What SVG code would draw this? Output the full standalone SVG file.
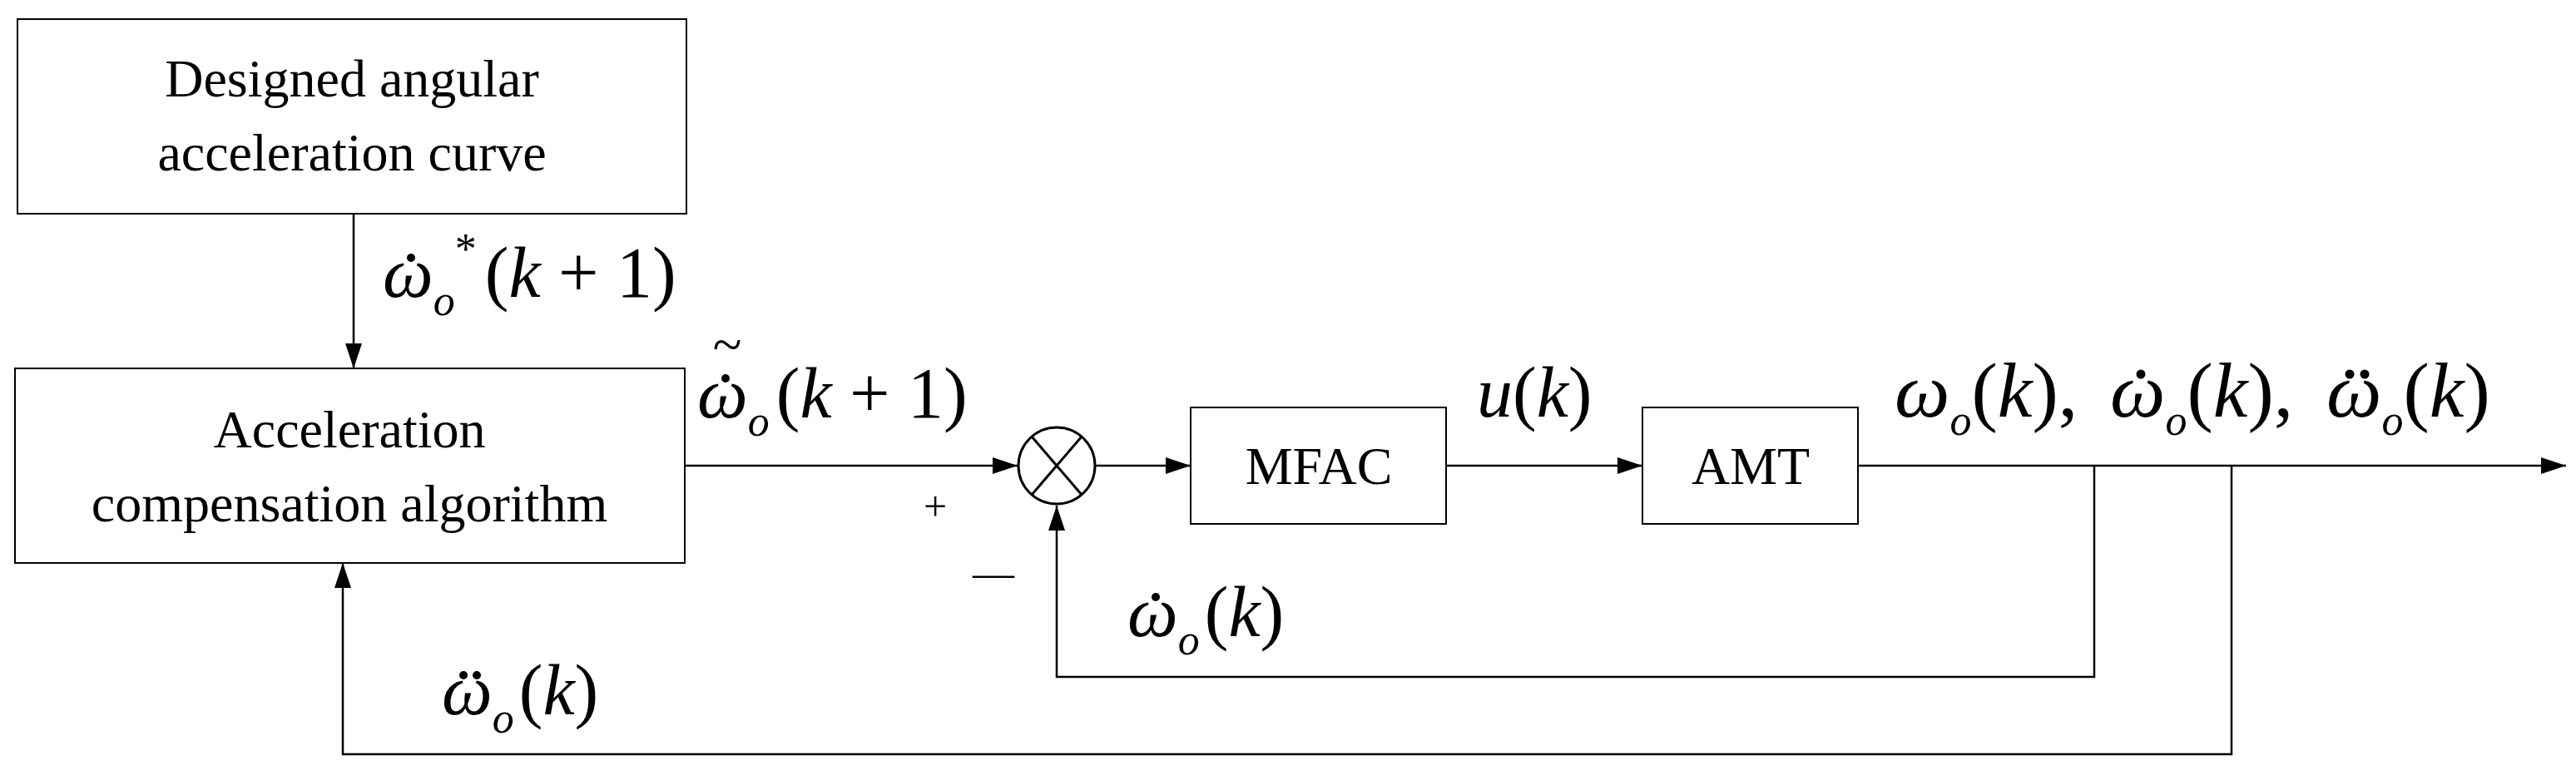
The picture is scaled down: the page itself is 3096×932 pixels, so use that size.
<svg xmlns="http://www.w3.org/2000/svg" width="3096" height="932" viewBox="0 0 3096 932">
<style>
.b{fill:#fff;stroke:#000;stroke-width:2}
.t{font-family:"Liberation Serif",serif;font-size:64px;text-anchor:middle}
.m{font-family:"Liberation Serif",serif;font-size:86px}
.o{font-family:"Liberation Serif",serif;font-size:94px}
.i{font-style:italic}
.s{font-size:52px;font-style:italic}
.l{fill:none;stroke:#000;stroke-width:2.5}
.dot{fill:#000}
</style>
<defs>
<marker id="A" viewBox="0 0 30 20" refX="30" refY="10" markerWidth="30" markerHeight="20" orient="auto" markerUnits="userSpaceOnUse"><path d="M0,0L30,10L0,20z"/></marker></defs>
<g id="connectors">
<path class="l" d="M425,257V443" marker-end="url(#A)"/>
<path class="l" d="M823,560H1223" marker-end="url(#A)"/>
<path class="l" d="M1317,560H1431" marker-end="url(#A)"/>
<path class="l" d="M1738,560H1974" marker-end="url(#A)"/>
<path class="l" d="M2233,560H3084" marker-end="url(#A)"/>
<path class="l" d="M2517,560V814H1270V608" marker-end="url(#A)"/>
<path class="l" d="M2682,560V907H412V677" marker-end="url(#A)"/>
</g>
<g id="designed"><rect class="b" x="21" y="23" width="804" height="234"/>
<text class="t" x="423" y="116">Designed angular</text><text class="t" x="423" y="205">acceleration curve</text></g>
<g id="acc"><rect class="b" x="18" y="443" width="805" height="234"/>
<text class="t" x="420" y="538">Acceleration</text><text class="t" x="420" y="627">compensation algorithm</text></g>
<g id="sum"><circle cx="1270" cy="560" r="46" fill="#fff" stroke="#000" stroke-width="3"/>
<path d="M1240,525L1300,595M1300,525L1240,595" stroke="#000" stroke-width="3"/></g>
<g id="mfac"><rect class="b" x="1431" y="490" width="307" height="140"/><text class="t" x="1585" y="582">MFAC</text></g>
<g id="amt"><rect class="b" x="1974" y="490" width="259" height="140"/><text class="t" x="2104" y="582">AMT</text></g>
<g id="labels">
<text class="m" x="460" y="357"><tspan class="i">ω</tspan><tspan class="s" dy="22">o</tspan><tspan font-size="52" dy="-62">*</tspan><tspan dy="40" dx="10">(</tspan><tspan class="i">k</tspan> + 1)</text>
<circle class="dot" cx="494" cy="310" r="5"/>
<text class="m" x="838" y="502"><tspan class="i">ω</tspan><tspan class="s" dy="22">o</tspan><tspan dy="-22" dx="8">(</tspan><tspan class="i">k</tspan> + 1)</text>
<circle class="dot" cx="872" cy="455" r="5"/>
<text font-family="Liberation Serif,serif" font-size="64" x="874" y="436" text-anchor="middle">~</text>
<text font-family="Liberation Serif,serif" font-size="50" x="1124" y="626" text-anchor="middle">+</text>
<text font-family="Liberation Serif,serif" font-size="50" x="1194" y="706" text-anchor="middle">—</text>
<text class="m" x="1775" y="501"><tspan class="i">u</tspan>(<tspan class="i">k</tspan>)</text>
<text class="o" x="2277" y="501"><tspan class="i">ω</tspan><tspan class="s" dy="22">o</tspan><tspan dy="-22">(</tspan><tspan class="i">k</tspan>),</text>
<text class="o" x="2536" y="501"><tspan class="i">ω</tspan><tspan class="s" dy="22">o</tspan><tspan dy="-22">(</tspan><tspan class="i">k</tspan>),</text>
<circle class="dot" cx="2573" cy="450" r="5.5"/>
<text class="o" x="2796" y="501"><tspan class="i">ω</tspan><tspan class="s" dy="22">o</tspan><tspan dy="-22">(</tspan><tspan class="i">k</tspan>)</text>
<circle class="dot" cx="2824" cy="450" r="5.5"/><circle class="dot" cx="2842" cy="450" r="5.5"/>
<text class="m" x="1355" y="765"><tspan class="i">ω</tspan><tspan class="s" dy="22">o</tspan><tspan dy="-22" dx="6">(</tspan><tspan class="i">k</tspan>)</text>
<circle class="dot" cx="1389" cy="718" r="5"/>
<text class="m" x="531" y="859"><tspan class="i">ω</tspan><tspan class="s" dy="22">o</tspan><tspan dy="-22" dx="6">(</tspan><tspan class="i">k</tspan>)</text>
<circle class="dot" cx="557" cy="812" r="5"/><circle class="dot" cx="573" cy="812" r="5"/>
</g>
</svg>
